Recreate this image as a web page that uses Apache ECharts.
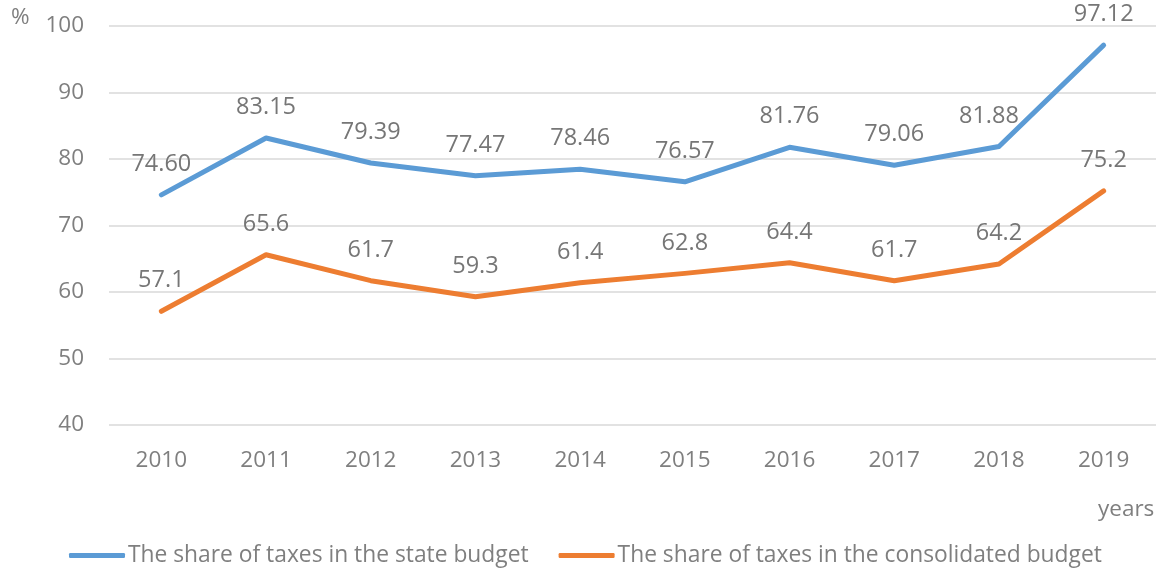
<!DOCTYPE html>
<html>
<head>
<meta charset="utf-8">
<script src="https://cdn.jsdelivr.net/npm/echarts@6/dist/echarts.min.js"></script>
<style>
html, body { margin: 0; padding: 0; background: #fff; }
#chart { width: 1162px; height: 570px; }
</style>
</head>
<body>
<div id="chart"></div>
<script>
const years = ['2010', '2011', '2012', '2013', '2014', '2015', '2016', '2017', '2018', '2019']
const stateBudget = [74.60, 83.15, 79.39, 77.47, 78.46, 76.57, 81.76, 79.06, 81.88, 97.12]
const consolidatedBudget = [57.1, 65.6, 61.7, 59.3, 61.4, 62.8, 64.4, 61.7, 64.2, 75.2]

const textColor = '#7f7f7f'
const fontFamily = '"Open Sans", "Noto Sans", sans-serif'
const fs = 22.5
const labelFs = 23.5

const chart = echarts.init(document.getElementById('chart'))

// the 2018 label of the state series sits a little left of its point
const stateData = stateBudget.map((v, i) => i === 8 ? { value: v, label: { offset: [-10, 0] } } : v)

chart.setOption({
    animation: false,
    textStyle: {
        fontFamily: fontFamily,
        color: textColor
    },
    grid: {
        left: 109,
        right: 6,
        top: 26,
        bottom: 145
    },
    legend: {
        left: 64,
        top: 539,
        itemWidth: 56,
        itemHeight: 5,
        itemGap: 30,
        icon: 'roundRect',
        textStyle: {
            fontFamily: fontFamily,
            fontSize: 22.8,
            color: textColor,
            padding: [0, 0, 0, -2]
        },
        data: ['The share of taxes in the state budget', 'The share of taxes in the consolidated budget']
    },
    graphic: [{
        type: 'text',
        left: 11,
        top: 6,
        style: { text: '%', fontSize: fs, fill: textColor, fontFamily: fontFamily }
    }, {
        type: 'text',
        left: 1098,
        top: 498,
        style: { text: 'years', fontSize: fs, fill: textColor, fontFamily: fontFamily }
    }],
    xAxis: {
        type: 'category',
        data: years,
        boundaryGap: true,
        axisLine: { show: false },
        axisTick: { show: false },
        axisLabel: {
            fontSize: fs,
            color: textColor,
            margin: 24,
            fontFamily: fontFamily
        }
    },
    yAxis: {
        type: 'value',
        min: 40,
        max: 100,
        interval: 10,
        axisLine: { show: false },
        axisTick: { show: false },
        axisLabel: {
            fontSize: fs,
            color: textColor,
            margin: 25,
            fontFamily: fontFamily
        },
        splitLine: {
            lineStyle: { color: '#d9d9d9', width: 1.5 }
        }
    },
    series: [{
        name: 'The share of taxes in the state budget',
        type: 'line',
        data: stateData,
        symbol: 'circle',
        symbolSize: 1,
        showSymbol: true,
        color: '#5b9bd5',
        lineStyle: { width: 5, color: '#5b9bd5', cap: 'round', join: 'round' },
        label: {
            show: true,
            position: 'top',
            distance: 18,
            fontSize: labelFs,
            color: '#767676',
            fontFamily: fontFamily,
            formatter: p => p.value.toFixed(2)
        }
    }, {
        name: 'The share of taxes in the consolidated budget',
        type: 'line',
        data: consolidatedBudget,
        symbol: 'circle',
        symbolSize: 1,
        showSymbol: true,
        color: '#ed7d31',
        lineStyle: { width: 5, color: '#ed7d31', cap: 'round', join: 'round' },
        label: {
            show: true,
            position: 'top',
            distance: 18,
            fontSize: labelFs,
            color: '#767676',
            fontFamily: fontFamily,
            formatter: p => p.value.toFixed(1)
        }
    }]
})
</script>
</body>
</html>
